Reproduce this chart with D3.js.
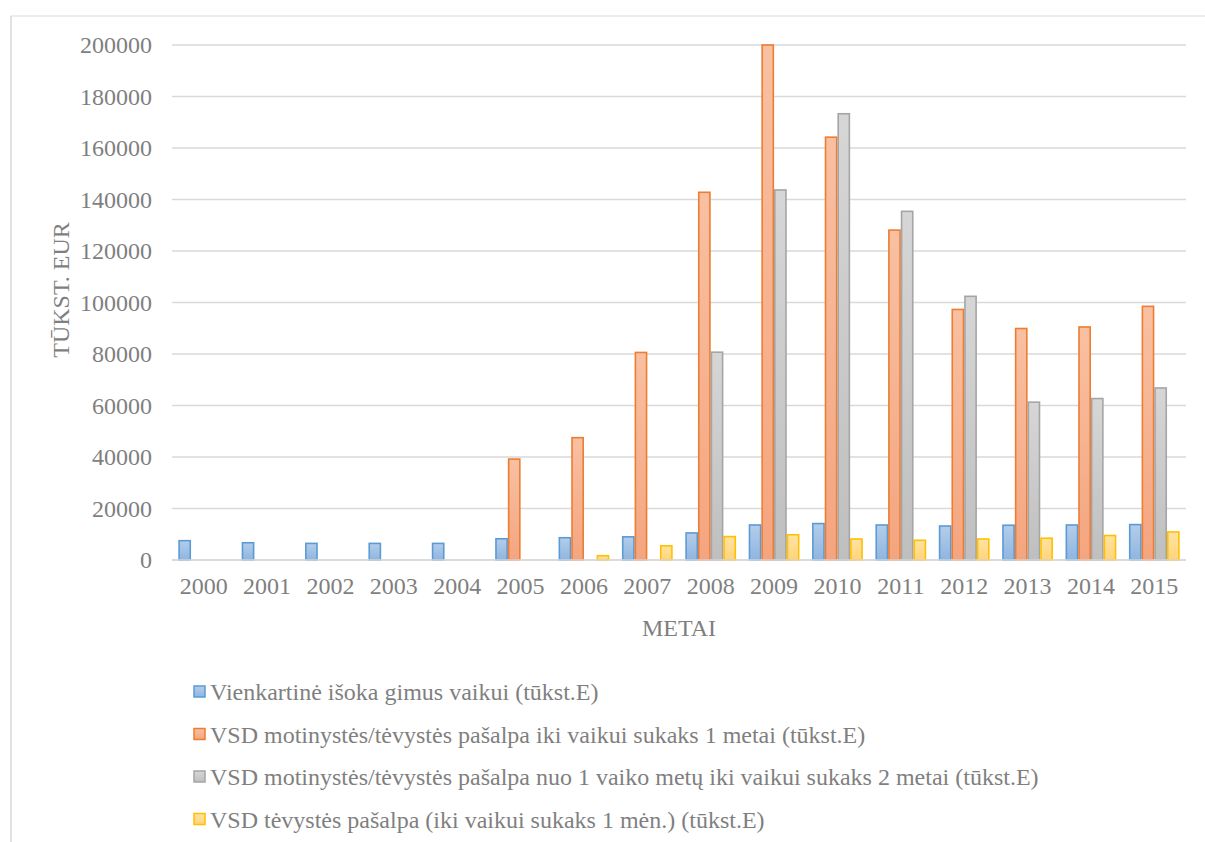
<!DOCTYPE html>
<html>
<head>
<meta charset="utf-8">
<script src="https://cdn.jsdelivr.net/npm/d3@7"></script>
<style>
  html, body { margin: 0; padding: 0; background: #fff; }
  svg { display: block; }
  svg text { font-family: "Liberation Serif", "Times New Roman", serif !important; fill: #7f7f7f; }
</style>
</head>
<body>
<svg id="chart" width="1205" height="842"></svg>
<script>
// Years on the category axis
const years = ["2000","2001","2002","2003","2004","2005","2006","2007",
               "2008","2009","2010","2011","2012","2013","2014","2015"];

// Series values, thousand EUR (null = no payment that year)
const vienkartine = [7500, 6700, 6450, 6450, 6450, 8250, 8650, 9000,
                     10500, 13600, 14150, 13600, 13200, 13500, 13600, 13750];
const iki1 = [null, null, null, null, null, 39200, 47500, 80600,
              142800, 200000, 164200, 128100, 97300, 89900, 90500, 98500];
const nuo1iki2 = [null, null, null, null, null, null, null, null,
                  80700, 143700, 173300, 135400, 102400, 61300, 62700, 66800];
const tevystes = [null, null, null, null, null, null, 1650, 5500,
                  9100, 9800, 8150, 7650, 8150, 8450, 9500, 10900];

const yTicks = [0, 20000, 40000, 60000, 80000, 100000, 120000, 140000, 160000, 180000, 200000];

const seriesNames = [
  "Vienkartinė išoka gimus vaikui (tūkst.E)",
  "VSD motinystės/tėvystės pašalpa iki vaikui sukaks 1 metai (tūkst.E)",
  "VSD motinystės/tėvystės pašalpa nuo 1 vaiko metų iki vaikui sukaks 2 metai (tūkst.E)",
  "VSD tėvystės pašalpa (iki vaikui sukaks 1 mėn.) (tūkst.E)"
];
const seriesData = [vienkartine, iki1, nuo1iki2, tevystes];

const palette = [
  { stroke: "#5b9bd5", top: "#b4cdea", bottom: "#8fb5e0" },
  { stroke: "#ed7d31", top: "#f8c0a2", bottom: "#f4a57f" },
  { stroke: "#a5a5a5", top: "#d6d6d6", bottom: "#bfbfbf" },
  { stroke: "#ffc000", top: "#ffe3a3", bottom: "#ffd47a" }
];

const FONT = "Liberation Serif, Times New Roman, serif";
const FS = "24px";

const svg = d3.select("#chart");

// Outer frame of the chart area
svg.append("line").attr("x1", 11).attr("x2", 1205).attr("y1", 16).attr("y2", 16)
  .attr("stroke", "#d9d9d9").attr("stroke-width", 1);
svg.append("line").attr("x1", 11).attr("x2", 11).attr("y1", 16).attr("y2", 842)
  .attr("stroke", "#d9d9d9").attr("stroke-width", 1.5);

// Gradients for bar fills
const defs = svg.append("defs");
palette.forEach((p, i) => {
  const g = defs.append("linearGradient").attr("id", "grad" + i)
    .attr("x1", 0).attr("y1", 0).attr("x2", 0).attr("y2", 1);
  g.append("stop").attr("offset", "0%").attr("stop-color", p.top);
  g.append("stop").attr("offset", "100%").attr("stop-color", p.bottom);
});

const plot = { left: 172, right: 1186, top: 45, bottom: 560 };

const x0 = d3.scaleBand().domain(years).range([plot.left, plot.right]).padding(0);
const x1 = d3.scaleBand().domain(d3.range(4))
  .range([0, x0.bandwidth()]).paddingOuter(0.5).paddingInner(0);
const y = d3.scaleLinear().domain([0, 200000]).range([plot.bottom, plot.top]);

// Horizontal gridlines
svg.append("g").selectAll("line").data(yTicks).join("line")
  .attr("x1", plot.left).attr("x2", plot.right)
  .attr("y1", d => y(d)).attr("y2", d => y(d))
  .attr("stroke", "#d9d9d9").attr("stroke-width", 1.5);

// Y axis labels
const yAxis = d3.axisLeft(y).tickValues(yTicks).tickSize(0).tickPadding(20).tickFormat(d3.format("d"));
const gy = svg.append("g").attr("transform", `translate(${plot.left},0)`).call(yAxis)
  .attr("font-family", FONT).attr("font-size", FS);
gy.select(".domain").remove();
gy.selectAll("text").attr("fill", "#7f7f7f");

// Bars
const groups = svg.append("g").selectAll("g").data(years).join("g")
  .attr("transform", d => `translate(${x0(d)},0)`);

groups.each(function(year, yi) {
  const g = d3.select(this);
  seriesData.forEach((arr, si) => {
    const v = arr[yi];
    if (v == null) return;
    const w = x1.bandwidth();
    g.append("rect")
      .attr("x", x1(si) + 0.75)
      .attr("y", y(v))
      .attr("width", w - 1.5)
      .attr("height", Math.max(0, y(0) - y(v)))
      .attr("fill", `url(#grad${si})`)
      .attr("stroke", palette[si].stroke)
      .attr("stroke-width", 1.6);
  });
});

// X axis line and labels
svg.append("line").attr("x1", plot.left).attr("x2", plot.right)
  .attr("y1", y(0)).attr("y2", y(0)).attr("stroke", "#d9d9d9").attr("stroke-width", 1.5);

const xAxis = d3.axisBottom(x0).tickSize(0).tickPadding(17);
const gx = svg.append("g").attr("transform", `translate(0,${plot.bottom})`).call(xAxis)
  .attr("font-family", FONT).attr("font-size", FS);
gx.select(".domain").remove();
gx.selectAll("text").attr("fill", "#7f7f7f");

// Axis titles
svg.append("text").attr("x", 679).attr("y", 636).attr("text-anchor", "middle")
  .attr("font-family", FONT).attr("font-size", FS).text("METAI");
svg.append("text").attr("transform", "translate(69,290) rotate(-90)")
  .attr("text-anchor", "middle").attr("font-family", FONT).attr("font-size", FS)
  .text("TŪKST. EUR");

// Legend
const legend = svg.append("g").selectAll("g").data(seriesNames).join("g")
  .attr("transform", (d, i) => `translate(194,${692 + i * 42.5})`);
legend.append("rect").attr("x", 0).attr("y", -6).attr("width", 11).attr("height", 11)
  .attr("fill", (d, i) => `url(#grad${i})`)
  .attr("stroke", (d, i) => palette[i].stroke).attr("stroke-width", 1.5);
legend.append("text").attr("x", 16).attr("y", 0).attr("dy", "0.35em")
  .attr("font-family", FONT).attr("font-size", FS).text(d => d);
</script>
</body>
</html>
